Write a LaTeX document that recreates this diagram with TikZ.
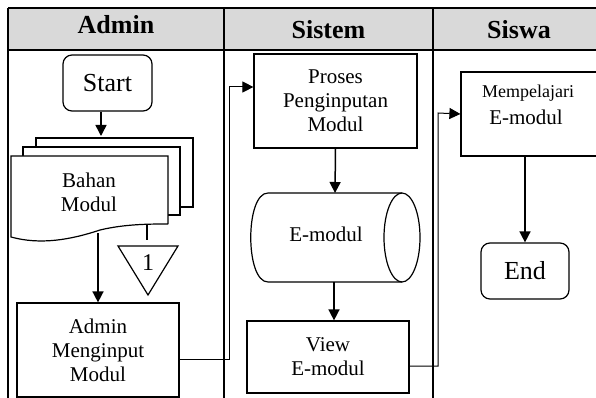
\documentclass[tikz,border=0pt]{standalone}
\usepackage{fontspec}
\setmainfont{Liberation Serif}
\usetikzlibrary{arrows.meta,calc}
\definecolor{hdrgray}{RGB}{217,217,217}
\tikzset{
  frameline/.style={line width=1.6pt},
  boxstyle/.style={draw, line width=1.2pt, rectangle, inner sep=0pt, align=center},
  termbox/.style={draw, line width=1.2pt, rectangle, rounded corners=9pt, inner sep=0pt},
  bodytext/.style={font=\fontsize{21}{24}\selectfont, align=center},
  bigtext/.style={font=\fontsize{26}{30}\selectfont},
  hdrtext/.style={font=\bfseries\fontsize{26}{30}\selectfont},
  arr/.style={line width=1.5pt, -{Triangle[length=11pt,width=11pt]}},
  conn/.style={line width=1pt, -{Triangle[length=11pt,width=11pt]}},
  plainline/.style={line width=1pt},
}
\begin{document}
\begin{tikzpicture}[x=1pt,y=-1pt]
\useasboundingbox (0,0) rectangle (596,398);
% header
\fill[hdrgray] (8,8) rectangle (610,50);
\draw[frameline] (8,8) -- (610,8);
\draw[frameline] (8,50) -- (610,50);
\draw[frameline] (8,8) -- (8,400);
\draw[frameline] (224,8) -- (224,400);
\draw[frameline] (433,8) -- (433,400);
\node[hdrtext] (hA) at (116,25) {Admin};
\node[hdrtext] (hB) at (328.5,30) {Sistem};
\node[hdrtext] (hC) at (519,30) {Siswa};

% Admin lane
\node[termbox, minimum width=89pt, minimum height=56pt, bigtext] (start) at (107.5,83) {Start};
% multi-document
\draw[line width=1.2pt, fill=white] (36,207) -- (36,138) -- (193,138) -- (193,207) -- (180,207);
\draw[line width=1.2pt, fill=white] (23,215) -- (23,147) -- (180,147) -- (180,215) -- (168,215);
\draw[line width=1.2pt, fill=white] (168,224) -- (168,156) -- (11,156) -- (11,237)
   .. controls (40,245) and (70,240) .. (100,230) .. controls (125,224) and (150,224) .. (168,224);
\node[bodytext] (doc) at (89,192) {Bahan\\Modul};
\coordinate (docin) at (101,138);
\coordinate (docout) at (98,233);
\coordinate (docoff) at (147,225);
\draw[arr, shorten >=2pt] (start.south -| docin) -- (docin);
% off-page connector
\draw[line width=1.2pt] (118,246) -- (178,246) -- (148,295) -- cycle;
\node[font=\fontsize{24}{28}\selectfont] (off) at (148,263) {1};
\coordinate (offtop) at (147,240);
\draw[plainline, line width=1.2pt] (docoff) -- (offtop);

\node[boxstyle, minimum width=162pt, minimum height=94pt, bodytext] (admin) at (98,350) {Admin\\Menginput\\Modul};
\draw[arr] (docout) -- (docout |- admin.north);

% Sistem lane
\node[boxstyle, minimum width=163pt, minimum height=94pt, bodytext] (proses) at (335.5,101) {Proses\\Penginputan\\Modul};
\draw[conn] ([yshift=-9pt]admin.east) -| (229,87) -- ([yshift=14pt]proses.west);

% cylinder
\draw[line width=1.2pt] (402,193) -- (268,193)
  .. controls (245,193) and (245,282) .. (268,282) -- (402,282);
\draw[line width=1.2pt] (402,237.5) ellipse [x radius=18, y radius=44.5];
\node[bodytext] (cyl) at (326,234) {E-modul};
\coordinate (cyltop) at (335,193);
\coordinate (cylbot) at (334,282);
\draw[arr] (proses.south) -- (cyltop);

\node[boxstyle, minimum width=162pt, minimum height=72pt, bodytext] (view) at (328,357) {View\\E-modul};
\draw[arr] (cylbot) -- (cylbot |- view.north);

% Siswa lane
\node[boxstyle, minimum width=140pt, minimum height=84pt] (mempel) at (531,114) {};
\node[font=\fontsize{18}{22}\selectfont] (mtext1) at (528,93) {Mempelajari};
\node[font=\fontsize{21}{24}\selectfont] (mtext2) at (526,117) {E-modul};
\draw[conn] ([yshift=-9pt]view.east) -| (438,113) -- (mempel.west);

\node[termbox, minimum width=88pt, minimum height=56pt, bigtext] (end) at (525,271) {End};
\draw[arr] (end.north |- mempel.south) -- (end.north);
\end{tikzpicture}
\end{document}
